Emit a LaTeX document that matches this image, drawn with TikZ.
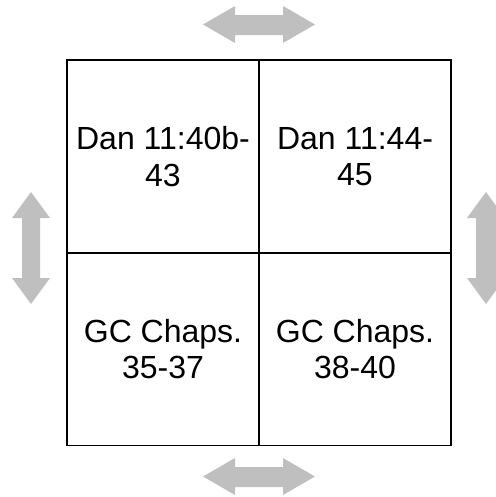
\documentclass[tikz,border=0pt]{standalone}
\usepackage{fontspec}
\setmainfont{Liberation Sans}
\begin{document}
\begin{tikzpicture}[x=0.75pt,y=-0.75pt,
  cell/.style={draw=black,line width=1.4pt,minimum width=144pt,minimum height=144.75pt,
    align=center,font=\fontsize{24}{27.5}\selectfont,inner sep=0pt,anchor=center},
  garrow/.style={fill=black!25,draw=none}]
\useasboundingbox (0,0) rectangle (496,497);
\clip (0,0) rectangle (496,497);
\node[cell] (tl) at (163,156.5) {Dan 11:40b-\\43};
\node[cell] (tr) at (355,156.5) {Dan 11:44-\\45};
\node[cell] (bl) at (163,349) {GC Chaps.\\35-37};
\node[cell] (br) at (355,349) {GC Chaps.\\38-40};
% top arrow
\fill[garrow] (203,24.5) -- (235,6) -- (235,15) -- (283,15) -- (283,6) -- (315,24.5)
  -- (283,43) -- (283,35) -- (235,35) -- (235,43) -- cycle;
% bottom arrow
\fill[garrow] (203,476.5) -- (235,458) -- (235,467) -- (283,467) -- (283,458) -- (315,476.5)
  -- (283,495) -- (283,487) -- (235,487) -- (235,495) -- cycle;
% left arrow
\fill[garrow] (31,192) -- (50,218) -- (40,218) -- (40,278) -- (50,278) -- (31,304)
  -- (12,278) -- (22,278) -- (22,218) -- (12,218) -- cycle;
% right arrow
\fill[garrow] (486,192) -- (505,218) -- (496,218) -- (496,278) -- (505,278) -- (486,304)
  -- (467,278) -- (476,278) -- (476,218) -- (467,218) -- cycle;
\end{tikzpicture}
\end{document}
